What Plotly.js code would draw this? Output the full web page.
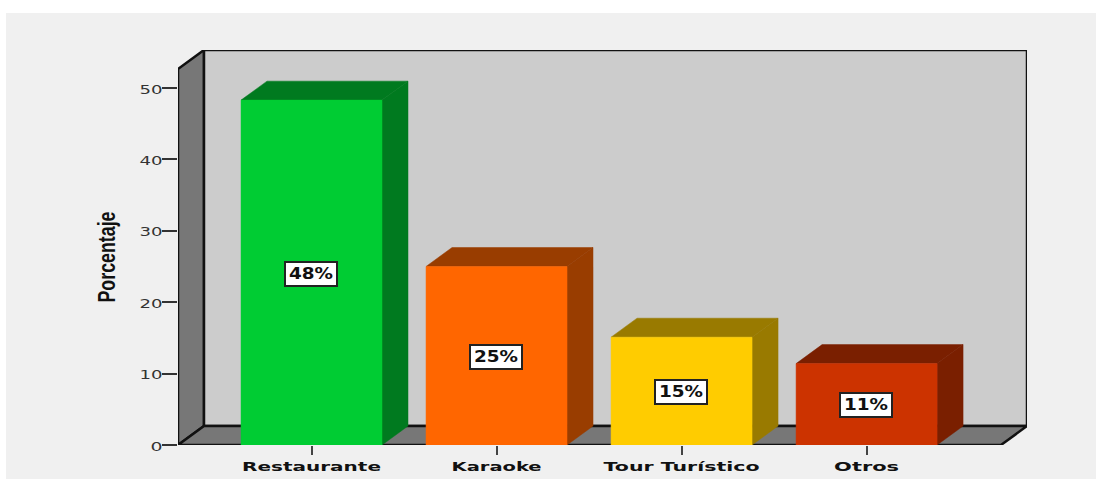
<!DOCTYPE html>
<html>
<head>
<meta charset="utf-8">
<script src="https://cdn.plot.ly/plotly-3.0.1.min.js"></script>
<style>
html,body{margin:0;padding:0;background:#fff;overflow:hidden}
#panel{position:absolute;left:6px;top:13px;width:1090px;height:466px;background:#f0f0f0}
#chart{position:absolute;left:0;top:0;width:1096px;height:479px}
</style>
</head>
<body>
<div id="panel"></div>
<div id="chart"></div>
<script>
var categories = ["Restaurante", "Karaoke", "Tour Turístico", "Otros"];
var values = [48.3, 25.0, 15.1, 11.4];
var barLabels = ["48%", "25%", "15%", "11%"];
var frontColors = ["#00cc33", "#ff6600", "#ffcc00", "#cc3300"];
var shadeColors = ["#007a1f", "#993d00", "#997a00", "#7a1f00"];
var yTicks = [0, 10, 20, 30, 40, 50];

var xRange = [-0.7216, 3.867];
var yRange = [0, 55.32];
var depthX = 0.1405;
var depthY = 2.66;
var halfBar = 0.381;

function face(xs, ys, fill, line) {
  return {
    type: "scatter", mode: "lines", x: xs, y: ys, fill: "toself", fillcolor: fill,
    line: line ? {color: line, width: 2.5} : {color: fill, width: 0.5},
    hoverinfo: "skip", showlegend: false, cliponaxis: false
  };
}

var traces = [];
var x0 = xRange[0], x1 = xRange[1], yT = yRange[1];
traces.push(face([x0, x0 + depthX, x0 + depthX, x0, x0], [0, depthY, yT, yT - depthY, 0], "#777777", "#111111"));
traces.push(face([x0 + depthX, x1, x1, x0 + depthX, x0 + depthX], [depthY, depthY, yT, yT, depthY], "#cccccc", "#111111"));
traces.push(face([x0, x1 - depthX, x1, x0 + depthX, x0], [0, 0, depthY, depthY, 0], "#777777", "#111111"));

categories.forEach(function (c, i) {
  var l = i - halfBar, r = i + halfBar, v = values[i];
  traces.push(face([r, r + depthX, r + depthX, r, r], [0, depthY, v + depthY, v, 0], shadeColors[i]));
  traces.push(face([l, l + depthX, r + depthX, r, l], [v, v + depthY, v + depthY, v, v], shadeColors[i]));
  traces.push(face([l, r, r, l, l], [0, 0, v, v, 0], frontColors[i]));
});

var annotations = categories.map(function (c, i) {
  return {
    x: i, y: values[i] / 2, xref: "x", yref: "y", yshift: -1, xshift: -1, text: barLabels[i], showarrow: false,
    font: {family: "DejaVu Sans", size: 15, color: "#111", weight: 700},
    bgcolor: "#ffffff", bordercolor: "#222222", borderwidth: 2, borderpad: 1,
    width: 48, height: 20, align: "center", valign: "middle"
  };
});

var layout = {
  width: 1096, height: 479,
  margin: {l: 178, r: 69, t: 50, b: 34, pad: 0},
  paper_bgcolor: "rgba(0,0,0,0)", plot_bgcolor: "rgba(0,0,0,0)",
  showlegend: false, hovermode: false,
  xaxis: {
    range: xRange, tickmode: "array", tickvals: [0, 1, 2, 3], ticktext: categories,
    ticks: "outside", ticklen: 9, tickwidth: 2, tickcolor: "#444", showgrid: false, zeroline: false,
    showline: false,
    tickfont: {family: "DejaVu Sans", size: 13, color: "#111", weight: 700}
  },
  yaxis: {
    range: yRange, tickmode: "array", tickvals: yTicks, ticks: "outside", ticklen: 15,
    tickwidth: 2, tickcolor: "#333", showgrid: false, zeroline: false, showline: false,
    tickfont: {family: "DejaVu Sans", size: 13, color: "#333"},
    title: {text: "Porcentaje", standoff: 22, font: {family: "Liberation Sans Narrow, Liberation Sans", size: 23, color: "#111", weight: 700}}
  },
  annotations: annotations
};

var xLabelWidths = [139, 90, 156, 65];

Plotly.newPlot("chart", traces, layout, {displayModeBar: false, staticPlot: true}).then(function (gd) {
  function stretch(node, w) {
    node.setAttribute("textLength", w);
    node.setAttribute("lengthAdjust", "spacingAndGlyphs");
  }
  gd.querySelectorAll(".xtick text").forEach(function (n, i) { stretch(n, xLabelWidths[i]); n.setAttribute("dy", 0); });
  gd.querySelectorAll(".ytick text").forEach(function (n) {
    stretch(n, n.textContent === "0" ? 12 : 23);
    n.setAttribute("dx", 3);
    n.setAttribute("dy", 1);
  });
  gd.querySelectorAll(".annotation-text").forEach(function (n) { stretch(n, 44); });
  var t = gd.querySelector(".ytitle");
  if (t) {
    stretch(t, 91);
    t.setAttribute("transform", "translate(2,9.5) " + (t.getAttribute("transform") || ""));
  }
});
</script>
</body>
</html>
